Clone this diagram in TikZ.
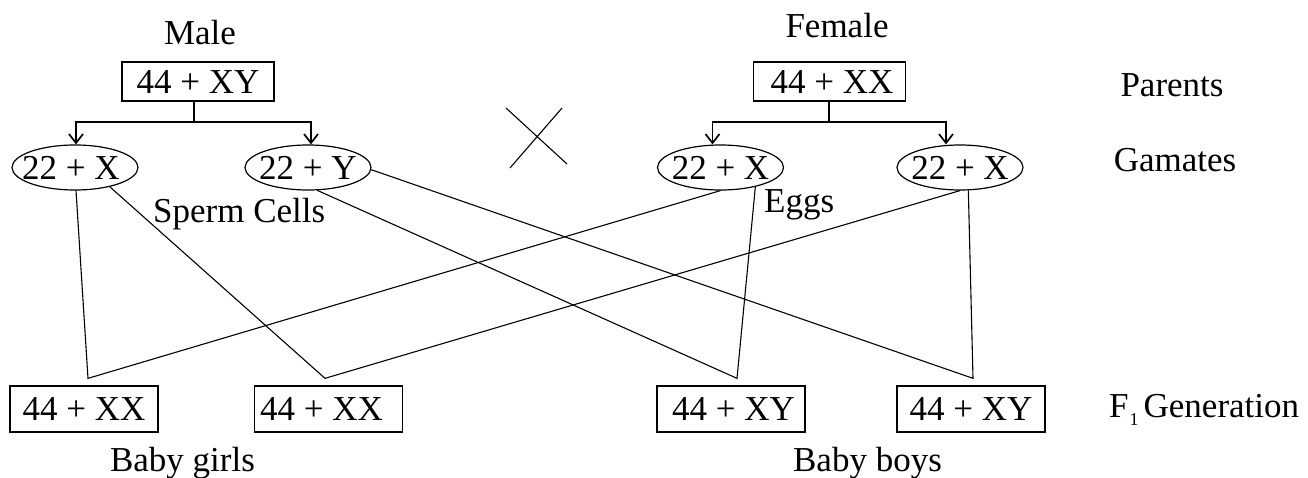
\documentclass[tikz,border=0pt]{standalone}
\usepackage{fontspec}
\setmainfont{Liberation Serif}
\usetikzlibrary{shapes.geometric,arrows.meta}
\begin{document}
\begin{tikzpicture}[x=1pt,y=-1pt,
  font=\fontsize{35}{42}\selectfont,
  box/.style={draw,line width=1.3pt,minimum width=152pt,minimum height=39pt,inner sep=0pt},
  kid/.style={draw,line width=1.3pt,minimum width=148pt,minimum height=46pt,inner sep=0pt},
  gam/.style={draw,ellipse,line width=1.2pt,minimum width=126pt,minimum height=45pt,inner sep=0pt},
  lbl/.style={anchor=base,inner sep=0pt},
  lbll/.style={anchor=base west,inner sep=0pt},
  link/.style={line width=1.1pt},
  stem/.style={line width=1.4pt},
  split/.style={line width=1.7pt,-{Straight Barb[length=9pt,width=14pt]}}
]
\useasboundingbox (0,0) rectangle (1308,478);

% parents
\node[box] (male) at (198,81.5) {44 + XY};
\node[box] (female) at (829.5,81.5) {\hspace*{5pt}44 + XX};
\node[lbl] (malet) at (200,45) {Male};
\node[lbl] (femalet) at (837,38) {Female};
\node[lbl] (parents) at (1172,97) {Parents};
\node[lbl] (gamates) at (1175,172) {Gamates};

% gametes
\node[gam,label={[xshift=-4pt]center:22 + X}] (e1) at (75,167.5) {};
\node[gam,label={center:22 + Y}] (e2) at (308,167.5) {};
\node[gam,label={center:22 + X}] (e3) at (720.5,167.5) {};
\node[gam,label={center:22 + X}] (e4) at (960,167.5) {};
\node[lbll] (sperm) at (153,223) {Sperm Cells};
\node[lbll] (eggs) at (764,213) {Eggs};

% splitting arrows
\coordinate (mj) at (194,122);
\coordinate (fj) at (829,122);
\draw[stem] (male.south -| mj) -- (mj);
\draw[split] (mj) -| ([xshift=1pt]e1.north);
\draw[split] (mj) -| ([xshift=3pt]e2.north);
\draw[stem] (female.south -| fj) -- (fj);
\draw[split] (fj) -| ([xshift=-8pt]e3.north);
\draw[split] (fj) -| ([xshift=-14pt]e4.north);

% cross sign
\draw[link] (506,108) -- (567,164);
\draw[link] (562,108) -- (510,168);

% F1 generation
\node[kid] (b1) at (84,409) {44 + XX};
\node[kid,label={[xshift=-7pt]center:44 + XX}] (b2) at (328.5,409) {};
\node[kid] (b3) at (731,409) {\hspace*{5pt}44 + XY};
\node[kid] (b4) at (971,409) {44 + XY};
\node[lbl] (girls) at (182.5,471) {Baby girls};
\node[lbl] (boys) at (867.5,471) {Baby boys};
\node[lbll] (f1) at (1109,417) {F\hspace{1pt}\raisebox{-8pt}{\fontsize{18}{18}\selectfont 1}\hspace{5pt}Generation};

% apex points above each child
\coordinate (a1) at ([xshift=4pt,yshift=7pt]b1.north);
\coordinate (a2) at ([xshift=-3.5pt,yshift=7pt]b2.north);
\coordinate (a3) at ([xshift=6pt,yshift=7pt]b3.north);
\coordinate (a4) at ([xshift=2pt,yshift=7pt]b4.north);

% crossing lines
\draw[link] ([xshift=1pt]e1.south) -- (a1) -- (e3.south);
\draw[link] (e1.-29) -- (a2) -- (e4.south);
\draw[link] (e2.-68) -- (a3) -- (e3.-29);
\draw[link] (e2.-2) -- (a4) -- (e4.-70);
\end{tikzpicture}
\end{document}
